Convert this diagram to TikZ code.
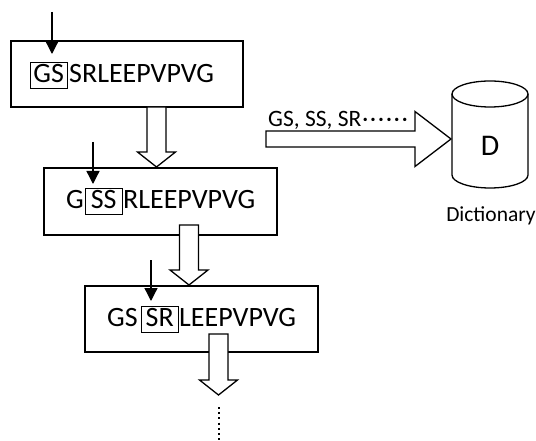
\documentclass[tikz,border=0pt]{standalone}
\usepackage{fontspec}
\setmainfont{Carlito}
\usetikzlibrary{arrows.meta,calc}
\tikzset{
  bigbox/.style={draw, line width=1.3pt, minimum width=232pt, minimum height=66pt, inner sep=0pt},
  seq/.style={font=\fontsize{28}{28}\selectfont, inner sep=0pt, anchor=base west},
  letterbox/.style={seq, draw, line width=1pt, minimum width=36.5pt, text height=20pt, text depth=6pt},
  ptr/.style={line width=1.3pt, -{Triangle[width=13pt,length=13pt]}},
  hollow/.style={draw, fill=white, line width=1.3pt, line join=miter},
  lbl/.style={font=\fontsize{23.5}{23.5}\selectfont, inner sep=0pt, anchor=base west},
}
\newcommand\vblock[2]{\draw[hollow] ($(#1)+(-9.5,0)$) -- ($(#2)+(-9.5,-15)$) -- ($(#2)+(-19,-15)$) -- (#2) -- ($(#2)+(19,-15)$) -- ($(#2)+(9.5,-15)$) -- ($(#1)+(9.5,0)$) -- cycle;}
\begin{document}
\begin{tikzpicture}[x=1pt,y=-1pt]
\useasboundingbox (0,0) rectangle (536,441);
% main boxes
\node[bigbox, minimum width=232pt, minimum height=66pt] (B1) at (127,74) {};
\node[bigbox, minimum width=233pt, minimum height=67pt] (B2) at (160.5,201.5) {};
\node[bigbox, minimum width=233pt, minimum height=66pt] (B3) at (201.5,319) {};
% texts in box 1
\node[letterbox] (t1a) at (30,83) {GS};
\node[seq] (t1b) at (69,83) {SRLEEPVPVG};
% texts in box 2
\node[seq] (t2a) at (66,209) {G};
\node[letterbox] (t2b) at (85,209) {SS};
\node[seq] (t2c) at (123,209) {RLEEPVPVG};
% texts in box 3
\node[seq] (t3a) at (107,326) {GS};
\node[letterbox] (t3b) at (141,326) {SR};
\node[seq] (t3c) at (179,326) {LEEPVPVG};
% hollow arrows between boxes
\coordinate (a1s) at (156.5,107);
\coordinate (a1t) at (156.5,167);
\coordinate (a2s) at (189,225);
\coordinate (a2t) at (189,285);
\coordinate (a3s) at (218.5,334);
\coordinate (a3t) at (218.5,395);
\vblock{a1s}{a1t}
\vblock{a2s}{a2t}
\vblock{a3s}{a3t}
% dotted continuation
\coordinate (d1) at (218.5,407);
\coordinate (d2) at (218.5,441);
\draw[line width=2pt, dash pattern=on 2pt off 3.2pt] (d1) -- (d2);
% pointer arrows
\coordinate (p1s) at (52,12);
\coordinate (p1t) at (52,54);
\coordinate (p2s) at (93,142);
\coordinate (p2t) at (93,184);
\coordinate (p3s) at (151,260);
\coordinate (p3t) at (151,301);
\draw[ptr] (p1s) -- (p1t);
\draw[ptr] (p2s) -- (p2t);
\draw[ptr] (p3s) -- (p3t);
% dictionary cylinder
\draw[line width=1.3pt] (452,94) -- (452,175) arc[start angle=180, end angle=360, x radius=38pt, y radius=13pt] -- (528,94);
\draw[line width=1.3pt] (490,94) ellipse [x radius=38pt, y radius=13pt];
\node[font=\fontsize{30}{30}\selectfont, inner sep=0pt] (D) at (490,146) {D};
\node[font=\fontsize{21.5}{21.5}\selectfont, inner sep=0pt, anchor=base] (dict) at (491,222) {Dictionary};
% big horizontal arrow
\coordinate (hs) at (266,139);
\coordinate (ht) at (451,139);
\draw[hollow] ($(hs)+(0,-8)$) -- ($(ht)+(-36,-8)$) -- ($(ht)+(-36,-27.5)$) -- (ht) -- ($(ht)+(-36,27.5)$) -- ($(ht)+(-36,8)$) -- ($(hs)+(0,8)$) -- cycle;
\node[lbl] (lab) at (268,127) {GS, SS, SR\kern1pt·\kern2pt·\kern2pt·\kern2pt·\kern2pt·\kern2pt·};
\end{tikzpicture}
\end{document}
